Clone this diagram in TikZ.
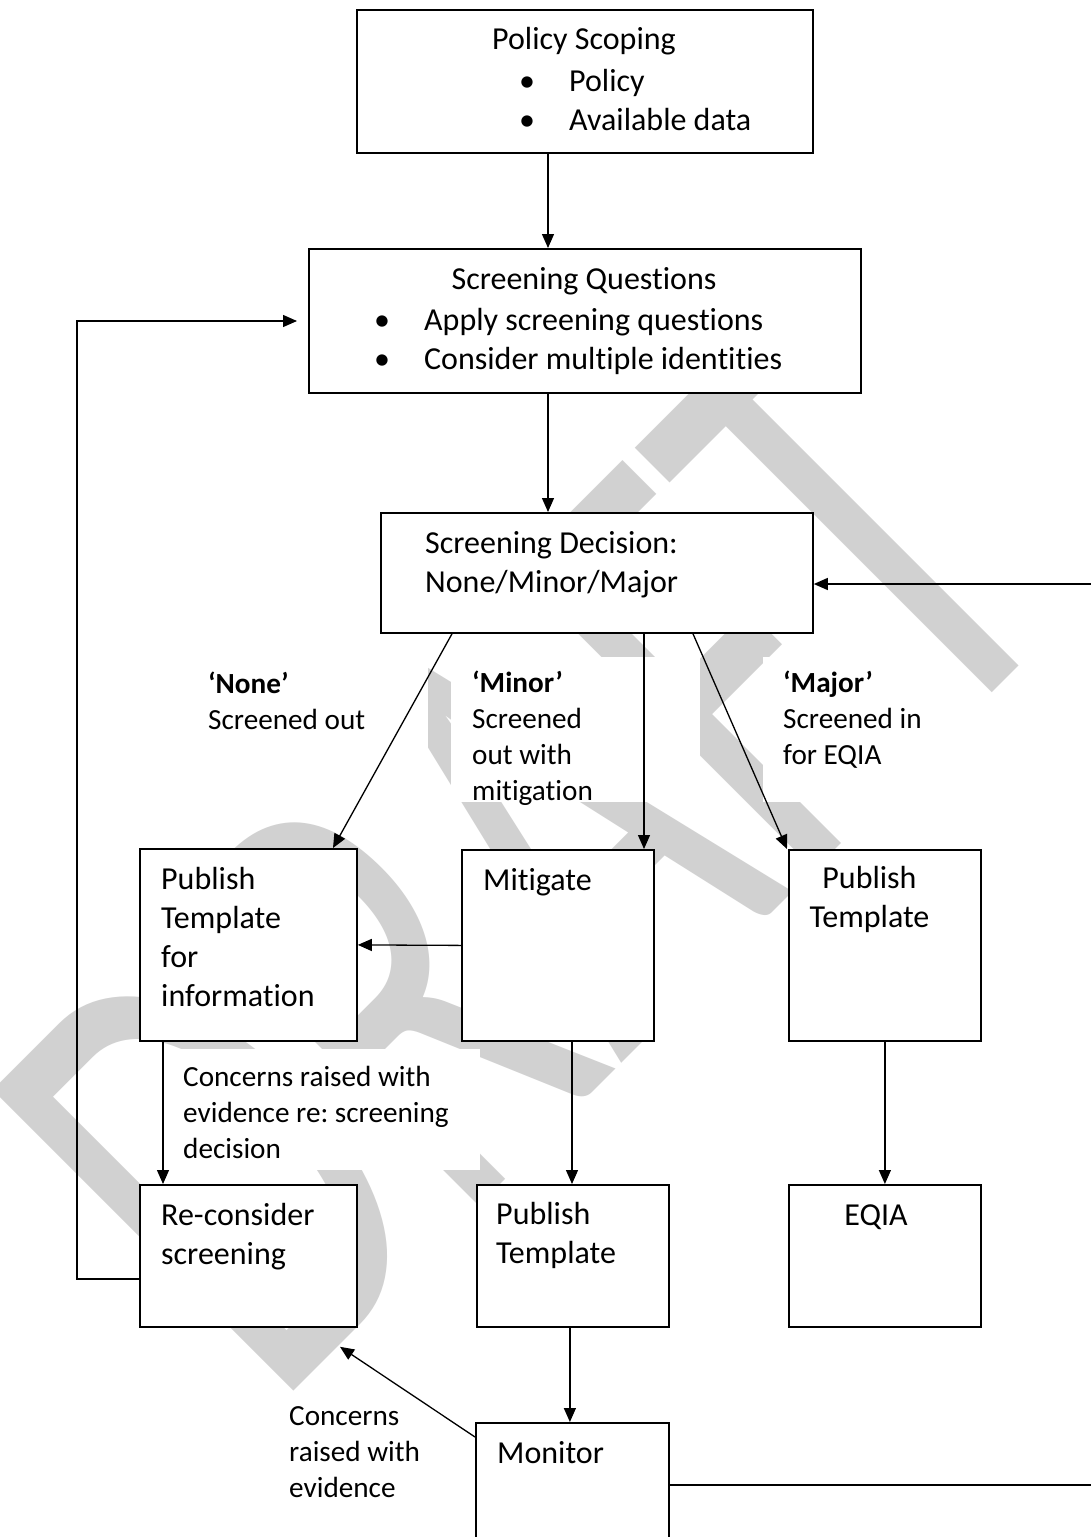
\documentclass[tikz,border=0pt]{standalone}
\usepackage{fontspec}
\setmainfont{Carlito}[Ligatures=NoCommon]
\usepackage{graphicx}
\usetikzlibrary{arrows.meta,calc}
\frenchspacing
\newcommand{\bul}{\makebox[84pt]{•}}
\tikzset{
  box/.style={draw, fill=white, line width=1.8pt, inner sep=0pt, anchor=north west},
  conn/.style={line width=1.3pt, -{Triangle[length=14pt,width=12pt]}},
  btext/.style={anchor=base west, inner sep=0pt, align=left, font=\fontsize{32}{39}\selectfont},
  ctext/.style={anchor=base, inner sep=0pt, align=center, font=\fontsize{32}{39}\selectfont},
  ltext/.style={anchor=base west, inner sep=0pt, align=left, font=\fontsize{29.2}{35.7}\selectfont},
  mask/.style={fill=white},
  wmark/.style={rotate=45, anchor=base west, inner sep=0pt, text=black!18, font=\fontsize{663}{663}\selectfont},
}
\begin{document}
\begin{tikzpicture}[x=1pt,y=-1pt]
\useasboundingbox (0,0) rectangle (1091,1537);
\clip (0,0) rectangle (1091,1537);
\fill[white] (0,0) rectangle (1091,1537);
% watermark
\node[wmark] (wm) at (273,1412) {\scalebox{0.64}[1]{DRAFT}};
% white text-box masks of the labels
\fill[mask] (190,657) rectangle (428,802);
\fill[mask] (451,657) rectangle (700,802);
\fill[mask] (763,657) rectangle (955,802);
\fill[mask] (170,1049) rectangle (480,1170);
\fill[mask] (280,1395) rectangle (430,1510);
% boxes
\node[box, minimum width=456pt, minimum height=143pt] (pol) at (356,9) {};
\node[box, minimum width=552pt, minimum height=144pt] (sq) at (308,248) {};
\node[box, minimum width=432pt, minimum height=120pt] (sd) at (380,512) {};
\node[box, minimum width=217pt, minimum height=192pt] (info) at (139,848) {};
\node[box, minimum width=192pt, minimum height=191pt] (mit) at (461,849) {};
\node[box, minimum width=192pt, minimum height=191pt] (ptR) at (788,849) {};
\node[box, minimum width=217pt, minimum height=142pt] (rc) at (139,1184) {};
\node[box, minimum width=192pt, minimum height=142pt] (ptM) at (476,1184) {};
\node[box, minimum width=192pt, minimum height=142pt] (eqia) at (788,1184) {};
\node[box, minimum width=193pt, minimum height=160pt] (mon) at (475,1422) {};
% texts (multi-line nodes are placed at the baseline of their last line)
\node[ctext] (polT) at (584,49) {Policy Scoping};
\node[btext] (polL) at (485,130) {\bul Policy\\\bul Available data};
\node[ctext] (sqT) at (584,289) {Screening Questions};
\node[btext] (sqL) at (340,369) {\bul Apply screening questions\\\bul Consider multiple identities};
\node[btext] (sdT) at (425,592) {Screening Decision:\\None/Minor/Major};
\node[ltext] (noneL) at (208,729) {\textbf{‘None’}\\Screened out};
\node[ltext] (minorL) at (472,800) {\textbf{‘Minor’}\\Screened\\out with\\mitigation};
\node[ltext] (majorL) at (783,764) {\textbf{‘Major’}\\Screened in\\for EQIA};
\node[btext] (infoT) at (161,1006) {Publish\\Template\\for\\information};
\node[btext] (mitT) at (483,890) {Mitigate};
\node[ctext] (ptRT) at (869.5,927) {Publish\\Template};
\node[ltext] (conc1) at (183,1158) {Concerns raised with\\evidence re: screening\\decision};
\node[btext] (rcT) at (161,1264) {Re-consider\\screening};
\node[btext] (ptMT) at (496,1263) {Publish\\Template};
\node[ctext] (eqiaT) at (876,1225) {EQIA};
\node[ltext] (conc2) at (289,1497) {Concerns\\raised with\\evidence};
\node[btext] (monT) at (497,1463) {Monitor};
% helper coordinates
\coordinate (farL1) at (77,1279);
\coordinate (farL2) at (77,321);
\coordinate (farR1) at (1110,1485);
\coordinate (farR2) at (1110,584);
% connectors
\draw[conn] ($(pol.south west)+(192,0)$) -- ($(sq.north west)+(240,0)$);
\draw[conn] ($(sq.south west)+(240,0)$) -- ($(sd.north west)+(168,0)$);
\draw[conn] ($(sd.south west)+(72,0)$) -- ($(info.north west)+(194,0)$);
\draw[conn] ($(sd.south west)+(264,0)$) -- ($(mit.north west)+(183,0)$);
\draw[conn] ($(sd.south west)+(313,0)$) -- ($(ptR.north west)+(-1,0)$);
\draw[conn] (mit.west) -- (info.east);
\draw[conn] ($(info.south west)+(24,0)$) -- ($(rc.north west)+(24,0)$);
\draw[conn] ($(mit.south west)+(111,0)$) -- ($(ptM.north west)+(96,0)$);
\draw[conn] (ptR.south) -- (eqia.north);
\draw[conn] ($(ptM.south)+(-3,0)$) -- ($(mon.north)+(-2.5,0)$);
\draw[conn] ($(mon.north west)+(0,15)$) -- ($(rc.south west)+(201,19)$);
\draw[conn, shorten >=11pt] (rc.west |- farL1) -- (farL1) -- (farL2) -- (sq.west |- farL2);
\draw[conn] (mon.east |- farR1) -- (farR1) -- (farR2) -- (sd.east |- farR2);
\end{tikzpicture}
\end{document}
